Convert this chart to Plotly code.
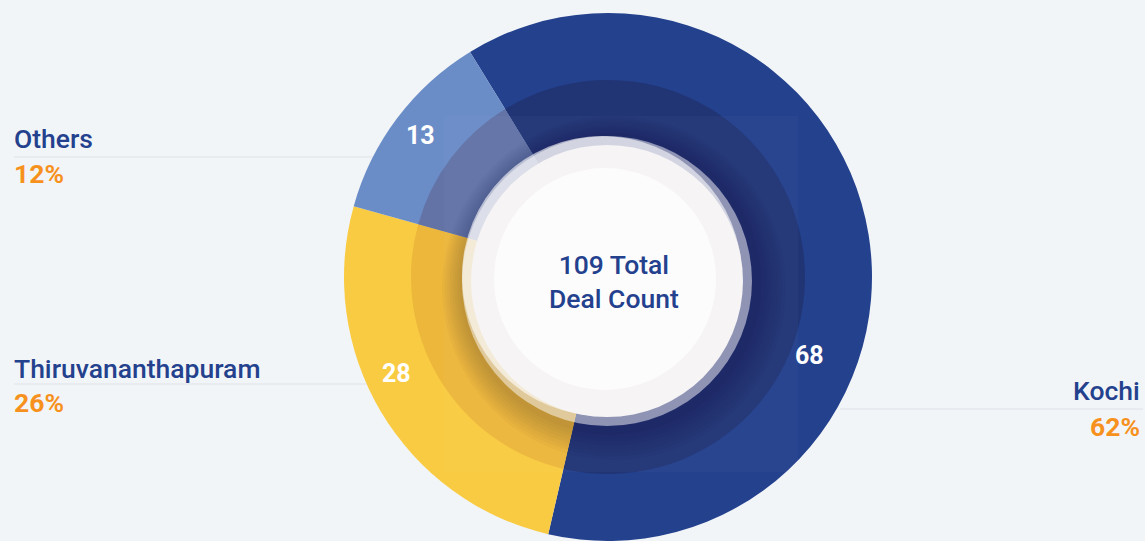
import math
import plotly.graph_objects as go

# ---- data ----
cities = ["Kochi", "Thiruvananthapuram", "Others"]
deal_counts = [68, 28, 13]
percent_labels = ["62%", "26%", "12%"]
center_title = ["109 Total", "Deal Count"]

# ---- style ----
W, H = 1145, 541
BG = "#F2F5F7"
NAVY = "#24418E"
ORANGE = "#F7911E"
outer_colors = ["#24418E", "#F9CB42", "#6A8CC7"]
inner_colors = ["#213575", "#EDB73B", "#6373A6"]
CX, CY = 608, 277          # pie centre (px)
R_OUT, R_IN = 264, 197
ROTATION = -31.5
label_adj = [(30.5, 0.82), (6.0, 0.88), (0.0, 0.89)]  # (angle offset deg, radius fraction)

FONT = "Roboto"
FS = 26.5


def px(x):
    return x / W


def py(y):
    return 1 - y / H


def dom(r):
    return dict(x=[px(CX - r), px(CX + r)], y=[py(CY + r), py(CY - r)])


fig = go.Figure()
fig.add_trace(go.Pie(labels=cities, values=deal_counts, sort=False, direction="clockwise",
                     rotation=ROTATION, marker=dict(colors=outer_colors, line=dict(width=0)),
                     textinfo="none", hoverinfo="skip", showlegend=False, domain=dom(R_OUT)))
fig.add_trace(go.Pie(labels=cities, values=deal_counts, sort=False, direction="clockwise",
                     rotation=ROTATION, marker=dict(colors=inner_colors, line=dict(width=0)),
                     textinfo="none", hoverinfo="skip", showlegend=False, domain=dom(R_IN)))

shapes = []
# separator lines under the legend texts
for (x0, x1, y) in [(14, 380, 157), (14, 380, 384), (840, 1143, 409)]:
    shapes.append(dict(type="line", xref="paper", yref="paper", x0=px(x0), x1=px(x1),
                       y0=py(y), y1=py(y), line=dict(color="#DEE3EA", width=1), layer="below"))


def circle(cx, cy, r, fill):
    return dict(type="circle", xref="paper", yref="paper", x0=px(cx - r), x1=px(cx + r),
                y0=py(cy + r), y1=py(cy - r), fillcolor=fill, line=dict(width=0), layer="above")


# faint overlay rectangle
shapes.append(dict(type="rect", xref="paper", yref="paper", x0=px(444), x1=px(798),
                   y0=py(472), y1=py(116), fillcolor="rgba(255,255,255,0.025)",
                   line=dict(width=0), layer="above"))
# soft shadow around the centre disc (offset to lower right)
for i in range(8):
    r = 172 - i * 3
    shapes.append(circle(614 - i * 0.5, 288 - i * 0.6, r, "rgba(10,15,50,0.025)"))
# translucent rim: dim on lower right, bright on upper left
shapes.append(circle(607, 281, 145, "rgba(255,255,255,0.5)"))
shapes.append(circle(602, 276, 140, "rgba(255,255,255,0.6)"))
# centre disc
shapes.append(circle(607, 281, 136, "#F6F4F5"))
shapes.append(circle(605, 279, 111, "#FDFCFD"))
fig.update_layout(shapes=shapes)

ann = []
# slice value labels, placed from the pie's own angles
total = sum(deal_counts)
start = ROTATION
for v, (off, rf) in zip(deal_counts, label_adj):
    span = v / total * 360
    mid = math.radians(start + span / 2 + off)
    r = R_OUT * rf
    x = CX + r * math.sin(mid)
    y = CY - r * math.cos(mid)
    ann.append(dict(x=px(x), y=py(y), xref="paper", yref="paper", text=f"<b>{v}</b>",
                    showarrow=False, xanchor="center", yanchor="middle",
                    font=dict(family=FONT, size=25, color="white")))
    start += span

# centre text
ann.append(dict(x=px(614), y=py(281), xref="paper", yref="paper",
                text="<br>".join(center_title), showarrow=False,
                xanchor="center", yanchor="middle",
                font=dict(family=FONT, size=FS, color=NAVY, weight=500)))

# side labels
side = {
    "Others": (12, 139, 173, "left"),
    "Thiruvananthapuram": (12, 368, 402, "left"),
    "Kochi": (1142, 390, 426, "right"),
}
for name, pct in zip(cities, percent_labels):
    x, yn, yp, anc = side[name]
    ann.append(dict(x=px(x), y=py(yn), xref="paper", yref="paper", text=name, showarrow=False,
                    xanchor=anc, yanchor="middle",
                    font=dict(family=FONT, size=FS, color=NAVY, weight=500)))
    ann.append(dict(x=px(x), y=py(yp), xref="paper", yref="paper", text=f"<b>{pct}</b>",
                    showarrow=False, xanchor=anc, yanchor="middle",
                    font=dict(family=FONT, size=FS, color=ORANGE)))

fig.update_layout(annotations=ann, width=W, height=H, margin=dict(l=0, r=0, t=0, b=0),
                  paper_bgcolor=BG, plot_bgcolor=BG)
fig.write_html("out.html", config={"displayModeBar": False},
               post_script="document.body.style.margin='0';"
               "document.body.style.overflow='hidden';"
               "document.body.style.background='" + BG + "';")
